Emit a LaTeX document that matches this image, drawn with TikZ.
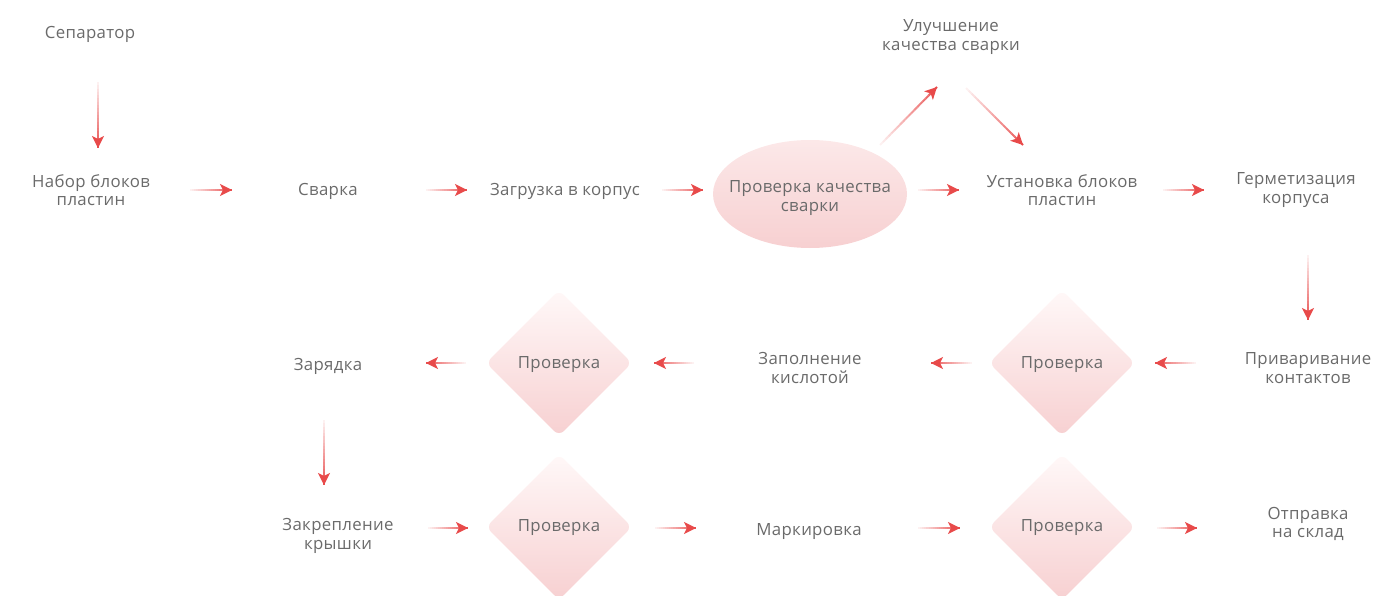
\documentclass[tikz,border=0pt]{standalone}
\usepackage{fontspec}
\setmainfont{Open Sans}[LetterSpace=2]
\usetikzlibrary{shapes.geometric,calc,arrows.meta}
\definecolor{txt}{HTML}{6A6A6A}
\definecolor{ar}{HTML}{E84A4A}
\definecolor{pk}{HTML}{F7D0D1}
\definecolor{pkl}{HTML}{FFF8F8}
\tikzset{
  lbl/.style={text=txt, font=\fontsize{16.8}{18.5}\selectfont, align=center, inner sep=0pt},
  chk/.style={diamond, aspect=1, minimum width=146pt, minimum height=146pt, inner sep=0pt, rounded corners=7pt,
    top color=pkl, bottom color=pk, draw=none},
  oval/.style={ellipse, minimum width=194pt, minimum height=108pt, inner sep=0pt, top color=pkl!60!pk, bottom color=pk, draw=none},
  seg/.style={line width=2pt, line cap=butt},
  tip/.style={draw=ar, fill=ar, line width=2pt, -{Stealth[length=12pt,width=12pt,inset=3pt]}}
}
\newcommand\garr[2]{%
  \foreach \k [evaluate=\k as \p using int(8+\k*4.6)] in {0,...,19}{%
    \draw[seg, draw=ar!\p!white] ($(#1)!{\k/20}!(#2)$) -- ($(#1)!{(\k+1)/20}!(#2)$);}
  \draw[tip] ($(#1)!0.9!(#2)$) -- (#2);}
\begin{document}
\begin{tikzpicture}[x=1pt,y=-1pt]
\useasboundingbox (0,0) rectangle (1396,596);
% shapes
\node[oval] (pks) at (810,194) {};
\node[chk] (p1) at (1062,363) {};
\node[chk] (p2) at (559,363) {};
\node[chk] (p3) at (559,527) {};
\node[chk] (p4) at (1062,527) {};
% texts
\node[lbl] (sep) at (90,34) {Сепаратор};
\node[lbl] (nab) at (91,190) {Набор блоков\\пластин};
\node[lbl] (sva) at (328,191) {Сварка};
\node[lbl] (zag) at (565,191) {Загрузка в корпус};
\node[lbl] (pkst) at (pks.center) [yshift=-4pt] {Проверка качества\\сварки};
\node[lbl] (uls) at (951,37) {Улучшение\\качества сварки};
\node[lbl] (ust) at (1062,190) {Установка блоков\\пластин};
\node[lbl] (ger) at (1296,190) {Герметизация\\корпуса};
\node[lbl] (pri) at (1308,368) {Приваривание\\контактов};
\node[lbl] (p1t) at ($(p1.center)+(0,2)$) {Проверка};
\node[lbl] (zap) at (810,368) {Заполнение\\кислотой};
\node[lbl] (p2t) at ($(p2.center)+(0,2)$) {Проверка};
\node[lbl] (zar) at (328,366) {Зарядка};
\node[lbl] (zak) at (338,536) {Закрепление\\крышки};
\node[lbl] (p3t) at ($(p3.center)+(0,1)$) {Проверка};
\node[lbl] (mar) at (809,532) {Маркировка};
\node[lbl] (p4t) at ($(p4.center)+(0,1)$) {Проверка};
\node[lbl] (otp) at (1308,524) {Отправка\\на склад};
% arrow endpoints
\coordinate (a1s) at (98,82);   \coordinate (a1e) at (98,148);
\coordinate (a2s) at (190,190); \coordinate (a2e) at (232,190);
\coordinate (a3s) at (426,190); \coordinate (a3e) at (467,190);
\coordinate (a4s) at (662,190); \coordinate (a4e) at (703,190);
\coordinate (a5s) at (918,190); \coordinate (a5e) at (959,190);
\coordinate (a6s) at (1163,190); \coordinate (a6e) at (1204,190);
\coordinate (d1s) at (880,145); \coordinate (d1e) at (937,87);
\coordinate (d2s) at (966,88);  \coordinate (d2e) at (1023,145);
\coordinate (a7s) at (1308,255); \coordinate (a7e) at (1308,320);
\coordinate (a8s) at (1196,363); \coordinate (a8e) at (1155,363);
\coordinate (a9s) at (972,363); \coordinate (a9e) at (931,363);
\coordinate (a10s) at (694,363); \coordinate (a10e) at (654,363);
\coordinate (a11s) at (466,363); \coordinate (a11e) at (426,363);
\coordinate (a12s) at (324,420); \coordinate (a12e) at (324,485);
\coordinate (a13s) at (428,528); \coordinate (a13e) at (468,528);
\coordinate (a14s) at (655,528); \coordinate (a14e) at (696,528);
\coordinate (a15s) at (918,528); \coordinate (a15e) at (960,528);
\coordinate (a16s) at (1157,528); \coordinate (a16e) at (1197,528);
% arrows
\garr{a1s}{a1e}\garr{a2s}{a2e}\garr{a3s}{a3e}\garr{a4s}{a4e}
\garr{a5s}{a5e}\garr{a6s}{a6e}\garr{d1s}{d1e}\garr{d2s}{d2e}
\garr{a7s}{a7e}\garr{a8s}{a8e}\garr{a9s}{a9e}\garr{a10s}{a10e}
\garr{a11s}{a11e}\garr{a12s}{a12e}\garr{a13s}{a13e}\garr{a14s}{a14e}
\garr{a15s}{a15e}\garr{a16s}{a16e}
\end{tikzpicture}
\end{document}
